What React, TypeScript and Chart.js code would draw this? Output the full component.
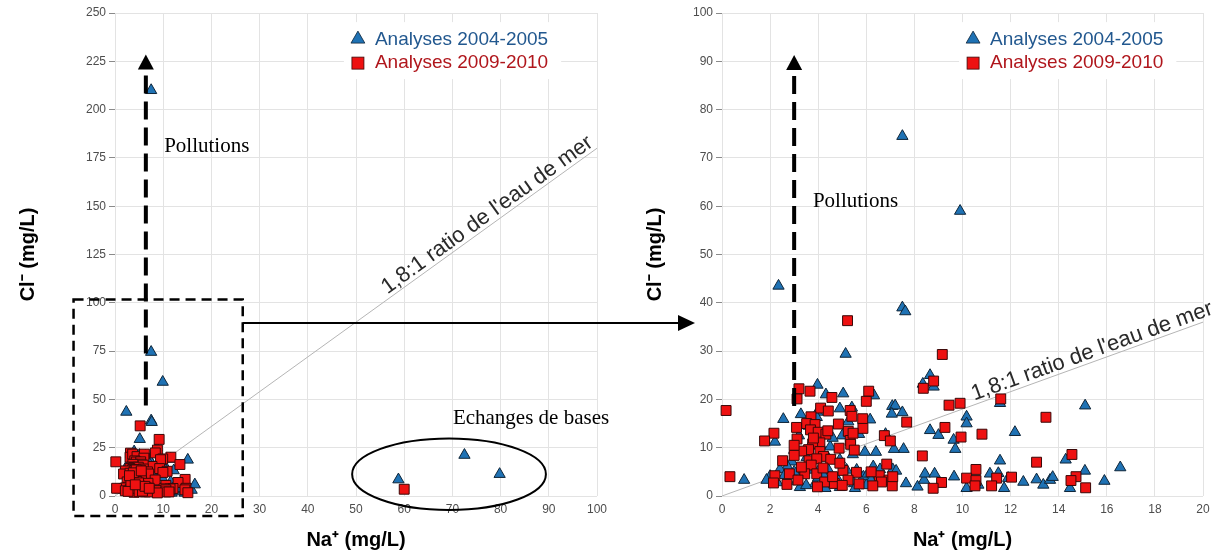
import React, { useEffect, useRef } from "react";
import { Chart, registerables } from "chart.js";
Chart.register(...registerables);

const SANS = '"Liberation Sans", Arial, sans-serif';
const SERIF = '"Liberation Serif", "Times New Roman", serif';

// ---- Data: Na+ (x) and Cl- (y), mg/L ----
const naBlue = [7.5, 7.5, 9.9, 2.35, 7.5, 7.62, 5.14, 8.65, 8.35, 8.8, 3.97, 4.32, 5.04, 6.32, 7.08, 7.2, 7.5, 7.06, 5.4, 4.9, 3.97, 3.28, 2.55, 3.94, 6.16, 5.25, 10.17, 10.17, 11.56, 15.1, 12.18, 8.65, 9.0, 9.63, 9.7, 7.55, 7.15, 6.4, 5.94, 5.44, 4.9, 3.66, 3.52, 2.2, 2.9, 2.72, 2.41, 2.0, 1.85, 0.92, 3.24, 3.41, 3.8, 4.07, 4.42, 3.87, 4.63, 4.3, 5.18, 5.6, 5.49, 5.53, 5.88, 6.06, 6.29, 6.57, 6.2, 7.1, 7.24, 7.65, 8.13, 8.4, 8.44, 8.84, 9.65, 10.17, 10.66, 11.14, 11.49, 11.56, 11.73, 11.9, 12.53, 13.08, 13.36, 13.64, 13.75, 14.29, 14.47, 15.09, 15.9, 16.56, 3.0, 3.2, 4.1, 4.5, 3.6, 4.6, 2.6, 3.1, 4.0, 4.8, 5.0, 4.4, 3.0, 2.3, 6.8, 6.6, 5.7, 6.0, 3.5, 4.2, 4.9, 58.8, 72.5, 79.8];
const clBlue = [210, 74.5, 59, 43.5, 39, 38.2, 29.4, 25.0, 23.2, 22.6, 23.0, 21.0, 21.2, 20.8, 18.6, 18.7, 17.3, 17.0, 18.3, 18.1, 17.4, 16.9, 15.9, 16.3, 15.8, 15.4, 16.4, 15.0, 19.2, 18.7, 13.2, 13.6, 12.6, 11.6, 9.7, 9.7, 9.7, 9.1, 9.1, 8.6, 7.5, 10.4, 8.0, 11.2, 7.1, 6.1, 5.5, 4.1, 3.3, 3.3, 1.8, 5.4, 5.4, 5.7, 5.4, 2.6, 2.6, 1.6, 5.4, 5.4, 2.6, 1.6, 4.0, 4.6, 6.1, 5.5, 3.3, 5.5, 5.2, 2.6, 1.9, 3.3, 4.6, 4.6, 4.0, 1.6, 2.3, 4.6, 4.7, 7.3, 1.6, 3.7, 2.9, 3.4, 2.3, 3.3, 3.9, 7.5, 1.6, 5.2, 3.1, 5.9, 9.5, 12.5, 10.5, 10.2, 14.5, 12.0, 4.3, 3.0, 3.8, 3.5, 12.5, 8.0, 5.0, 2.8, 12.8, 3.0, 12.8, 2.2, 2.2, 4.5, 1.8, 8.5, 21.2, 11.3];

const naRed = [5.22, 9.16, 8.8, 8.37, 3.2, 3.12, 3.66, 4.57, 6.1, 6.0, 11.59, 9.9, 9.44, 4.1, 4.42, 5.33, 5.4, 3.7, 13.47, 7.68, 5.85, 3.52, 3.87, 4.84, 5.86, 9.27, 3.1, 3.68, 2.16, 5.25, 4.0, 4.32, 10.81, 6.75, 9.94, 1.77, 3.12, 5.33, 7.0, 4.07, 3.77, 4.87, 5.35, 5.5, 4.07, 3.6, 3.31, 3.0, 8.33, 14.55, 4.22, 2.52, 3.62, 3.94, 4.52, 13.08, 6.85, 3.71, 5.03, 10.56, 2.8, 3.44, 3.94, 5.59, 6.54, 2.2, 0.33, 14.72, 12.04, 11.42, 10.17, 9.13, 6.95, 6.63, 5.24, 3.16, 4.27, 2.14, 4.67, 14.51, 10.56, 10.52, 11.21, 6.27, 7.08, 3.97, 8.78, 15.12, 0.17, 3.3, 4.6, 5.0, 4.4, 3.8, 4.9, 3.0, 2.7, 5.7, 6.2, 7.1, 4.2, 5.45, 60];
const clRed = [36.3, 29.3, 23.8, 22.3, 22.2, 20.1, 21.7, 20.4, 21.7, 19.6, 20.1, 19.2, 18.8, 18.2, 17.6, 17.7, 16.5, 16.4, 16.3, 15.3, 16.0, 15.0, 14.8, 14.9, 14.0, 14.2, 14.2, 13.7, 13.0, 13.4, 13.2, 12.8, 12.8, 12.5, 12.2, 11.4, 11.8, 11.5, 11.4, 11.0, 10.8, 9.9, 10.7, 9.5, 9.2, 9.6, 9.3, 8.4, 8.3, 8.6, 8.2, 7.3, 7.3, 7.7, 7.6, 7.0, 6.6, 6.4, 5.3, 5.5, 4.6, 4.6, 4.6, 4.9, 4.2, 4.2, 4.0, 4.0, 3.9, 3.7, 3.7, 2.8, 3.3, 2.9, 3.3, 3.3, 2.9, 2.7, 2.6, 3.2, 3.2, 2.1, 2.1, 2.1, 2.1, 1.9, 1.6, 1.7, 17.7, 6.0, 4.0, 2.2, 13.5, 12.0, 6.8, 10.5, 2.4, 2.5, 5.0, 4.0, 5.8, 13.0, 3.5];

// 1.8:1 seawater ratio reference line
const seaNa = [0, 100];
const seaCl = [0, 180];

const seriesLabels = ["Analyses 2004-2005", "Analyses 2009-2010"];
const leftXTicks = [0, 10, 20, 30, 40, 50, 60, 70, 80, 90, 100];
const leftYTicks = [0, 25, 50, 75, 100, 125, 150, 175, 200, 225, 250];
const rightXTicks = [0, 2, 4, 6, 8, 10, 12, 14, 16, 18, 20];
const rightYTicks = [0, 10, 20, 30, 40, 50, 60, 70, 80, 90, 100];
const xTitle = "Na\u207A (mg/L)";
const yTitle = "Cl\u207B (mg/L)";
const ratioText = "1,8:1 ratio de l'eau de mer";
const pollutionText = "Pollutions";
const exchangeText = "Echanges de bases";

const BLUE = "#1f72b4";
const BLUE_EDGE = "#0f2538";
const RED = "#ee1111";
const RED_EDGE = "#3a0808";
const BLUE_TEXT = "#22588f";
const RED_TEXT = "#b0161c";
const GRID = "#e3e3e3";

const toPoints = (xs: number[], ys: number[]) => xs.map((x, i) => ({ x, y: ys[i] }));

function drawTri(ctx: CanvasRenderingContext2D, x: number, y: number, r: number) {
  ctx.beginPath();
  for (let k = 0; k < 3; k++) {
    const a = (k * 2 * Math.PI) / 3;
    const px = x + Math.sin(a) * r;
    const py = y - Math.cos(a) * r;
    if (k === 0) ctx.moveTo(px, py);
    else ctx.lineTo(px, py);
  }
  ctx.closePath();
}

function drawLegend(chart: any, ax: number, ay: number) {
  const ctx: CanvasRenderingContext2D = chart.ctx;
  const mx = chart.scales.x.getPixelForValue(ax);
  const my = chart.scales.y.getPixelForValue(ay);
  ctx.save();
  ctx.font = `19px ${SANS}`;
  const w = Math.max(...seriesLabels.map((t) => ctx.measureText(t).width));
  ctx.fillStyle = "#ffffff";
  ctx.fillRect(mx - 14, my - 16, w + 44, 57);
  // row 1
  ctx.fillStyle = BLUE;
  ctx.strokeStyle = BLUE_EDGE;
  ctx.lineWidth = 0.8;
  drawTri(ctx, mx, my + 1, 8);
  ctx.fill();
  ctx.stroke();
  ctx.textBaseline = "middle";
  ctx.textAlign = "left";
  ctx.fillStyle = BLUE_TEXT;
  ctx.fillText(seriesLabels[0], mx + 17, my + 2);
  // row 2
  ctx.fillStyle = RED;
  ctx.strokeStyle = RED_EDGE;
  ctx.fillRect(mx - 6, my + 19, 12, 12);
  ctx.strokeRect(mx - 6, my + 19, 12, 12);
  ctx.fillStyle = RED_TEXT;
  ctx.fillText(seriesLabels[1], mx + 17, my + 25);
  ctx.restore();
}

function drawDashedArrow(ctx: CanvasRenderingContext2D, x: number, yBottom: number, yTip: number) {
  const headLen = 15;
  const headHalf = 8;
  ctx.save();
  ctx.strokeStyle = "#000";
  ctx.fillStyle = "#000";
  ctx.lineWidth = 4;
  ctx.setLineDash([18, 8]);
  ctx.beginPath();
  ctx.moveTo(x, yTip + headLen + 6);
  ctx.lineTo(x, yBottom);
  ctx.stroke();
  ctx.setLineDash([]);
  ctx.beginPath();
  ctx.moveTo(x, yTip);
  ctx.lineTo(x - headHalf, yTip + headLen);
  ctx.lineTo(x + headHalf, yTip + headLen);
  ctx.closePath();
  ctx.fill();
  ctx.restore();
}

function drawSerifText(ctx: CanvasRenderingContext2D, text: string, x: number, y: number) {
  ctx.save();
  ctx.font = `21px ${SERIF}`;
  ctx.fillStyle = "#000";
  ctx.textAlign = "left";
  ctx.textBaseline = "middle";
  ctx.fillText(text, x, y);
  ctx.restore();
}

function drawRatioLabel(chart: any, startNa: number) {
  const ctx: CanvasRenderingContext2D = chart.ctx;
  const xs = chart.scales.x;
  const ys = chart.scales.y;
  const ratio = seaCl[1] / seaNa[1];
  const p0x = xs.getPixelForValue(seaNa[0]);
  const p0y = ys.getPixelForValue(seaCl[0]);
  const p1x = xs.getPixelForValue(10);
  const p1y = ys.getPixelForValue(10 * ratio);
  const ang = Math.atan2(p1y - p0y, p1x - p0x);
  const sx = xs.getPixelForValue(startNa);
  const sy = ys.getPixelForValue(startNa * ratio);
  ctx.save();
  ctx.translate(sx, sy);
  ctx.rotate(ang);
  ctx.font = `22px ${SANS}`;
  ctx.fillStyle = "#2a2a2a";
  ctx.textAlign = "left";
  ctx.textBaseline = "alphabetic";
  ctx.fillText(ratioText, 0, -4);
  ctx.restore();
}

const ARROW_TIP_X = 695;

const leftPlugin = {
  id: "leftAnnotations",
  afterDatasetsDraw(chart: any) {
    const ctx: CanvasRenderingContext2D = chart.ctx;
    const xs = chart.scales.x;
    const ys = chart.scales.y;
    drawLegend(chart, 50.4, 237);
    drawDashedArrow(ctx, xs.getPixelForValue(6.4), ys.getPixelForValue(44), ys.getPixelForValue(228.5));
    drawSerifText(ctx, pollutionText, xs.getPixelForValue(10.2), ys.getPixelForValue(181));
    drawRatioLabel(chart, 57);
    // ellipse around base-exchange samples
    ctx.save();
    ctx.strokeStyle = "#000";
    ctx.lineWidth = 2;
    const cx = xs.getPixelForValue(69.3);
    const cy = ys.getPixelForValue(11.3);
    const rx = xs.getPixelForValue(89.4) - cx;
    const ry = ys.getPixelForValue(-7.2) - cy;
    ctx.beginPath();
    ctx.ellipse(cx, cy, rx, ry, 0, 0, Math.PI * 2);
    ctx.stroke();
    ctx.restore();
    drawSerifText(ctx, exchangeText, xs.getPixelForValue(70.1), ys.getPixelForValue(40.3));
    // dashed zoom rectangle
    const rL = xs.getPixelForValue(-8.6);
    const rR = xs.getPixelForValue(26.5);
    const rT = ys.getPixelForValue(101.7);
    const rB = ys.getPixelForValue(-10.3);
    ctx.save();
    ctx.strokeStyle = "#000";
    ctx.lineWidth = 2.5;
    ctx.setLineDash([10, 6]);
    ctx.strokeRect(rL, rT, rR - rL, rB - rT);
    ctx.setLineDash([]);
    // connecting arrow
    const ay = ys.getPixelForValue(89.5);
    ctx.lineWidth = 2;
    ctx.beginPath();
    ctx.moveTo(rR, ay);
    ctx.lineTo(ARROW_TIP_X - 14, ay);
    ctx.stroke();
    ctx.fillStyle = "#000";
    ctx.beginPath();
    ctx.moveTo(ARROW_TIP_X, ay);
    ctx.lineTo(ARROW_TIP_X - 17, ay - 8);
    ctx.lineTo(ARROW_TIP_X - 17, ay + 8);
    ctx.closePath();
    ctx.fill();
    ctx.restore();
  },
};

const rightPlugin = {
  id: "rightAnnotations",
  afterDatasetsDraw(chart: any) {
    const ctx: CanvasRenderingContext2D = chart.ctx;
    const xs = chart.scales.x;
    const ys = chart.scales.y;
    drawLegend(chart, 10.44, 94.8);
    drawDashedArrow(ctx, xs.getPixelForValue(3.0), ys.getPixelForValue(17.5), ys.getPixelForValue(91.3));
    drawSerifText(ctx, pollutionText, xs.getPixelForValue(3.78), ys.getPixelForValue(60.9));
    drawRatioLabel(chart, 10.55);
  },
};

function buildConfig(o: any) {
  const tickFont = { family: SANS, size: 12 };
  const titleFont = { family: SANS, size: 20, weight: "bold" as const };
  return {
    type: "scatter" as const,
    data: {
      datasets: [
        {
          label: seriesLabels[0],
          data: toPoints(naBlue, clBlue),
          pointStyle: "triangle",
          pointRadius: 6.5,
          pointHoverRadius: 6.5,
          backgroundColor: BLUE,
          borderColor: BLUE_EDGE,
          borderWidth: 1,
          order: 2,
          clip: false,
        },
        {
          label: seriesLabels[1],
          data: toPoints(naRed, clRed),
          pointStyle: "rect",
          pointRadius: 7,
          pointHoverRadius: 7,
          backgroundColor: RED,
          borderColor: RED_EDGE,
          borderWidth: 1,
          order: 1,
          clip: false,
        },
        {
          label: "ratio",
          data: toPoints(seaNa, seaCl),
          showLine: true,
          pointRadius: 0,
          borderColor: "#b5b5b5",
          borderWidth: 1,
          order: 3,
        },
      ],
    },
    options: {
      responsive: false,
      animation: false,
      devicePixelRatio: 1,
      events: [],
      layout: { padding: o.padding },
      plugins: { legend: { display: false }, tooltip: { enabled: false } },
      scales: {
        x: {
          type: "linear",
          min: o.xTicks[0],
          max: o.xTicks[o.xTicks.length - 1],
          afterBuildTicks: (s: any) => {
            s.ticks = o.xTicks.map((v: number) => ({ value: v }));
          },
          afterFit: (s: any) => {
            s.height = 60;
          },
          grid: { color: GRID, drawTicks: false },
          border: { display: false },
          ticks: { font: tickFont, color: "#4d4d4d", padding: 6, maxRotation: 0 },
          title: { display: true, text: xTitle, font: titleFont, color: "#000", padding: { top: 0, bottom: 4 } },
        },
        y: {
          type: "linear",
          min: o.yTicks[0],
          max: o.yTicks[o.yTicks.length - 1],
          afterBuildTicks: (s: any) => {
            s.ticks = o.yTicks.map((v: number) => ({ value: v }));
          },
          afterFit: (s: any) => {
            s.width = o.yWidth;
          },
          grid: { color: GRID, tickLength: 6, tickColor: "#8a8a8a" },
          border: { display: false },
          ticks: { font: tickFont, color: "#4d4d4d", padding: 3 },
          title: { display: true, text: yTitle, font: titleFont, color: "#000", padding: { top: o.yTitlePad, bottom: 0 } },
        },
      },
    },
    plugins: [o.plugin],
  };
}

export default function App() {
  const leftRef = useRef<HTMLCanvasElement | null>(null);
  const rightRef = useRef<HTMLCanvasElement | null>(null);

  useEffect(() => {
    const left = new Chart(
      leftRef.current as HTMLCanvasElement,
      buildConfig({
        xTicks: leftXTicks,
        yTicks: leftYTicks,
        yWidth: 115,
        yTitlePad: 16,
        padding: { top: 13, right: 623, left: 0, bottom: 0 },
        plugin: leftPlugin,
      }) as any
    );
    const right = new Chart(
      rightRef.current as HTMLCanvasElement,
      buildConfig({
        xTicks: rightXTicks,
        yTicks: rightYTicks,
        yWidth: 102,
        yTitlePad: 23,
        padding: { top: 13, right: 17, left: 0, bottom: 0 },
        plugin: rightPlugin,
      }) as any
    );
    return () => {
      left.destroy();
      right.destroy();
    };
  }, []);

  return (
    <div style={{ position: "fixed", left: 0, top: 0, width: 1220, height: 556, background: "#ffffff", overflow: "hidden" }}>
      <canvas ref={leftRef} width={1220} height={556} style={{ position: "absolute", left: 0, top: 0, width: 1220, height: 556 }} />
      <canvas ref={rightRef} width={600} height={556} style={{ position: "absolute", left: 620, top: 0, width: 600, height: 556 }} />
    </div>
  );
}
